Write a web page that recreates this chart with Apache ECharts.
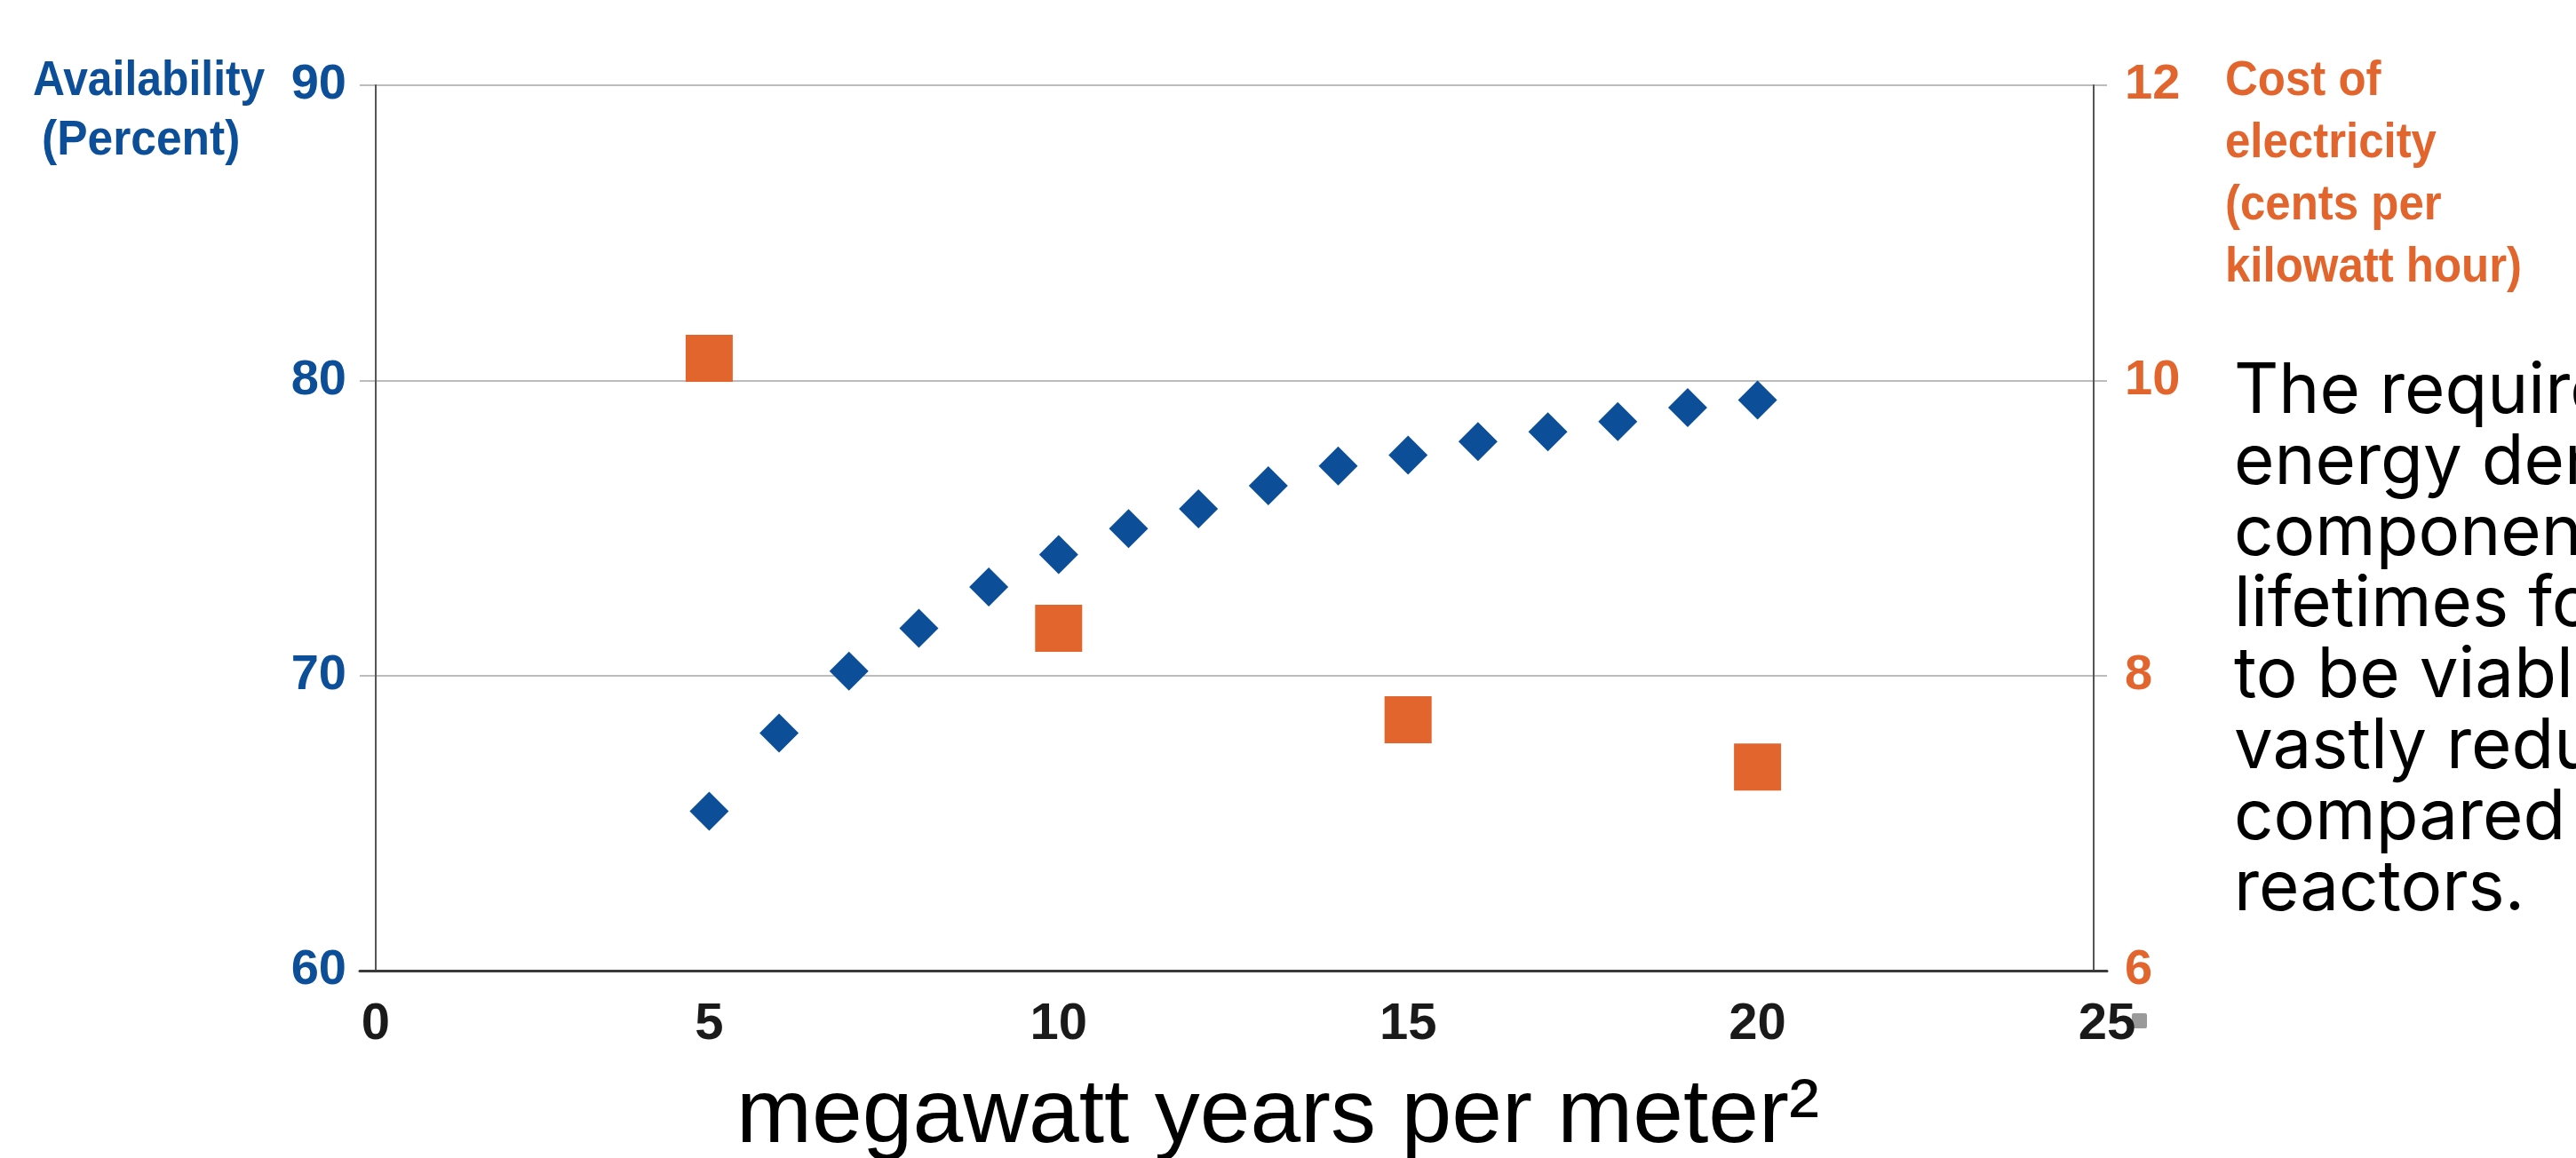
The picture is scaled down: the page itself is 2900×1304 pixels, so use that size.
<!DOCTYPE html>
<html>
<head>
<meta charset="utf-8">
<script src="https://cdn.jsdelivr.net/npm/echarts@6/dist/echarts.min.js"></script>
<style>
html,body{margin:0;padding:0;background:#fff;}
#chart{width:2900px;height:1304px;}
</style>
</head>
<body>
<div id="chart"></div>
<script>
// ---- data ----
const xTicks = [0, 5, 10, 15, 20, 25];
const leftTicks = [60, 70, 80, 90];
const rightTicks = [6, 8, 10, 12];
const availX = [5, 6, 7, 8, 9, 10, 11, 12, 13, 14, 15, 16, 17, 18, 19, 20];
const availability = [65.4, 68.05, 70.15, 71.6, 73.0, 74.1, 74.98, 75.65, 76.43, 77.1, 77.47, 77.93, 78.26, 78.6, 79.08, 79.33];
const costX = [5, 10, 15, 20];
const cost = [10.15, 8.32, 7.70, 7.38];
const leftTitle = ["Availability", "(Percent)"];
const rightTitle = ["Cost of", "electricity", "(cents per", "kilowatt hour)"];
const xTitle = "megawatt years per meter\u00B2";
const caption = ["The required", "energy density", "components", "lifetimes for", "to be viable", "vastly reduced", "compared to", "reactors."];

const BLUE = '#0c4f98';
const ORANGE = '#e2652d';
const BOLD = '"Liberation Sans", Arial, sans-serif';

const chart = echarts.init(document.getElementById('chart'), null, {renderer: 'canvas'});

const availData = availX.map((x, i) => [x, availability[i]]);
const costData = costX.map((x, i) => [x, cost[i]]);

const option = {
  backgroundColor: '#ffffff',
  animation: false,
  grid: {left: 405, right: 528, top: 96, bottom: 211, containLabel: false, outerBoundsMode: 'none'},
  xAxis: {
    type: 'value', min: xTicks[0], max: xTicks[xTicks.length - 1], interval: 5,
    axisLine: {show: true, onZero: false, lineStyle: {color: '#3a3a3a', width: 3}},
    axisTick: {show: false},
    splitLine: {show: false},
    axisLabel: {
      margin: 32, color: '#1a1a1a', fontFamily: BOLD, fontWeight: 'bold', fontSize: 58,
      formatter: v => v === 0 ? '{z|0}' : String(v),
      rich: {z: {padding: [0, 0, 0, 36], color: '#1a1a1a', fontFamily: BOLD, fontWeight: 'bold', fontSize: 58}}
    },
    name: xTitle, nameLocation: 'middle', nameGap: 114,
    nameTextStyle: {fontFamily: '"Liberation Sans", Arial, sans-serif', fontSize: 102, color: '#000', padding: [0, 0, 0, 100]}
  },
  yAxis: [
    {
      type: 'value', min: 60, max: 90, interval: 10, position: 'left', offset: -18,
      axisLine: {show: true, lineStyle: {color: '#555', width: 2}},
      axisTick: {show: false},
      splitLine: {show: true, lineStyle: {color: '#bcbcbc', width: 2}},
      axisLabel: {margin: 33, color: BLUE, fontFamily: BOLD, fontWeight: 'bold', fontSize: 56, padding: [0, 0, 18, 0]}
    },
    {
      type: 'value', min: 6, max: 12, interval: 2, position: 'right', offset: -15,
      axisLine: {show: true, lineStyle: {color: '#555', width: 2}},
      axisTick: {show: false},
      splitLine: {show: false},
      axisLabel: {margin: 35, color: ORANGE, fontFamily: BOLD, fontWeight: 'bold', fontSize: 56, padding: [0, 0, 22, 0]}
    }
  ],
  series: [
    {
      name: 'Availability', type: 'scatter', xAxisIndex: 0, yAxisIndex: 0,
      symbol: 'diamond', symbolSize: 44, data: availData,
      itemStyle: {color: BLUE, opacity: 1}, z: 3
    },
    {
      name: 'Cost of electricity', type: 'scatter', xAxisIndex: 0, yAxisIndex: 1,
      symbol: 'rect', symbolSize: 53, data: costData,
      itemStyle: {color: ORANGE, opacity: 1}, z: 3
    }
  ],
  graphic: [
    {type: 'text', x: 37, y: 92, scaleX: 0.89, style: {text: leftTitle[0], fill: BLUE, font: 'bold 56px ' + BOLD, textAlign: 'left', textVerticalAlign: 'middle'}},
    {type: 'text', x: 47, y: 159, scaleX: 0.92, style: {text: leftTitle[1], fill: BLUE, font: 'bold 56px ' + BOLD, textAlign: 'left', textVerticalAlign: 'middle'}},
    {type: 'text', x: 2505, y: 57, scaleX: 0.91, style: {text: rightTitle.join('\n'), fill: ORANGE, font: 'bold 56px ' + BOLD, lineHeight: 70, textAlign: 'left', textVerticalAlign: 'top'}},
    {type: 'text', x: 2515, y: 402, style: {text: caption.join('\n'), fill: '#000', font: '78px Inter, "Noto Sans", sans-serif', lineHeight: 80, textAlign: 'left', textVerticalAlign: 'top'}},
    {type: 'rect', x: 2400, y: 1141, shape: {width: 17, height: 17, r: 2}, style: {fill: '#9a9a9a'}}
  ]
};
chart.setOption(option);
</script>
</body>
</html>
